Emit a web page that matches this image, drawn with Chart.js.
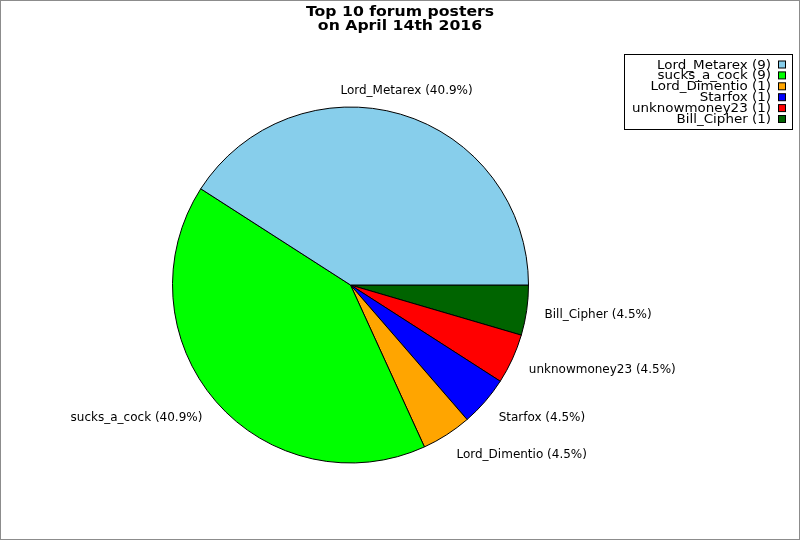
<!DOCTYPE html>
<html>
<head>
<meta charset="utf-8">
<script src="https://cdn.jsdelivr.net/npm/chart.js@4"></script>
<style>
  html, body { margin: 0; padding: 0; background: #fff; }
  #frame { width: 798px; height: 538px; border: 1px solid #8c8c8c; position: relative; }
  canvas { display: block; }
</style>
</head>
<body>
<div id="frame"><canvas id="pieChart" width="798" height="538"></canvas></div>
<script>
// data, in legend order
var posters = ['Lord_Metarex', 'sucks_a_cock', 'Lord_Dimentio', 'Starfox', 'unknowmoney23', 'Bill_Cipher'];
var postCounts = [9, 9, 1, 1, 1, 1];
var sliceColors = ['#87ceeb', '#00ff00', '#ffa500', '#0000ff', '#ff0000', '#006400'];
var titleLines = ['Top 10 forum posters', 'on April 14th 2016'];

document.addEventListener('DOMContentLoaded', function() {
    var total = postCounts.reduce(function(a, b) { return a + b; }, 0);

    // jpgraph goes counter clockwise from 3 o'clock, Chart.js goes clockwise -> reverse
    var labels = posters.slice().reverse();
    var values = postCounts.slice().reverse();
    var colors = sliceColors.slice().reverse();

    var titlePlugin = {
        id: 'titleText',
        afterDraw: function(chart) {
            var ctx = chart.ctx;
            ctx.save();
            ctx.fillStyle = '#000';
            ctx.font = 'bold 14px "DejaVu Sans"';
            ctx.textAlign = 'center';
            ctx.textBaseline = 'alphabetic';
            titleLines.forEach(function(line, i) {
                ctx.save();
                ctx.translate(399, 14.5 + i * 14);
                ctx.scale(1.12, 1);
                ctx.fillText(line, 0, 0);
                ctx.restore();
            });
            ctx.restore();
        }
    };

    var sliceLabels = {
        id: 'sliceLabels',
        afterDatasetsDraw: function(chart) {
            var ctx = chart.ctx;
            var meta = chart.getDatasetMeta(0);
            ctx.save();
            ctx.fillStyle = '#000';
            ctx.font = '12px "DejaVu Sans"';
            meta.data.forEach(function(arc, i) {
                var mid = (arc.startAngle + arc.endAngle) / 2;
                var c = Math.cos(mid);
                var s = Math.sin(mid);
                var top = Math.abs(c) < 0.45 && s < 0;
                var r = arc.outerRadius + (top ? 21 : 18);
                var px = arc.x + r * c;
                var py = arc.y + r * s;
                var pct = (values[i] / total * 100).toFixed(1);
                var text = labels[i] + ' (' + pct + '%)';
                if (Math.abs(c) < 0.45) {
                    ctx.textAlign = 'center';
                } else if (c > 0) {
                    ctx.textAlign = 'left';
                } else {
                    ctx.textAlign = 'right';
                }
                if (top) {
                    ctx.textBaseline = 'alphabetic';
                } else {
                    ctx.textBaseline = 'middle';
                    py += Math.min(1 + 6 * Math.max(s, 0), 5);
                }
                ctx.fillText(text, px, py);
            });
            ctx.restore();
        }
    };

    var boxLegend = {
        id: 'boxLegend',
        afterDraw: function(chart) {
            var ctx = chart.ctx;
            ctx.save();
            ctx.strokeStyle = '#000';
            ctx.lineWidth = 1;
            ctx.fillStyle = '#fff';
            ctx.fillRect(623.5, 53.5, 168, 75);
            ctx.strokeRect(623.5, 53.5, 168, 75);
            ctx.font = '12px "DejaVu Sans"';
            ctx.textAlign = 'right';
            ctx.textBaseline = 'alphabetic';
            posters.forEach(function(name, i) {
                var base = 67.5 + i * 10.9;
                ctx.save();
                ctx.fillStyle = '#000';
                ctx.translate(770, base);
                ctx.scale(1.12, 1);
                ctx.fillText(name + ' (' + postCounts[i] + ')', 0, 0);
                ctx.restore();
                ctx.fillStyle = sliceColors[i];
                ctx.fillRect(777.5, base - 7.5, 7, 7);
                ctx.strokeRect(777.5, base - 7.5, 7, 7);
            });
            ctx.restore();
        }
    };

    var ctx = document.getElementById('pieChart').getContext('2d');
    var chart = new Chart(ctx, {
        type: 'pie',
        data: {
            labels: labels,
            datasets: [{
                data: values,
                backgroundColor: colors,
                borderColor: '#000',
                borderWidth: 1,
                borderAlign: 'center'
            }]
        },
        options: {
            responsive: false,
            animation: false,
            events: [],
            rotation: 90,
            layout: {
                padding: { left: 171, right: 270, top: 105, bottom: 75 }
            },
            plugins: {
                legend: { display: false },
                title: { display: false },
                tooltip: { enabled: false }
            }
        },
        plugins: [titlePlugin, sliceLabels, boxLegend]
    });
});
</script>
</body>
</html>
